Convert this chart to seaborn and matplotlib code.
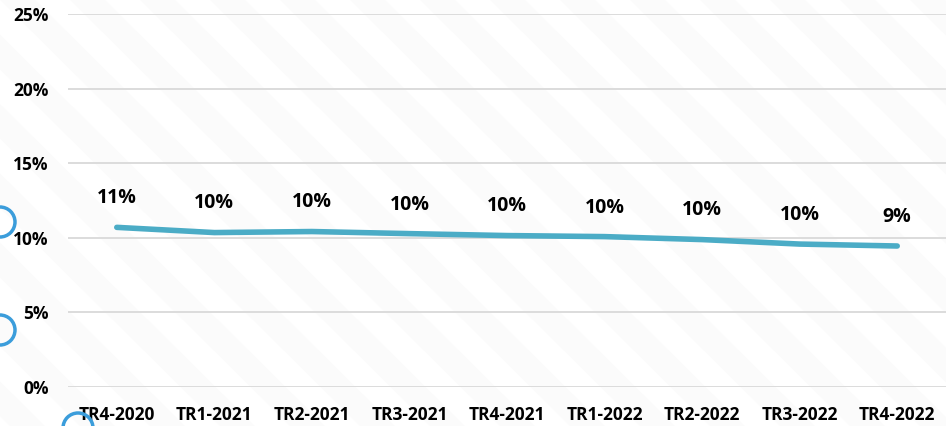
import numpy as np
import pandas as pd
import matplotlib
matplotlib.use("Agg")
import matplotlib.pyplot as plt
import seaborn as sns
from matplotlib.patches import Ellipse

quarters = ["TR4-2020", "TR1-2021", "TR2-2021", "TR3-2021", "TR4-2021",
            "TR1-2022", "TR2-2022", "TR3-2022", "TR4-2022"]
rates = [10.7, 10.35, 10.42, 10.28, 10.15, 10.08, 9.88, 9.58, 9.45]
labels = ["11%", "10%", "10%", "10%", "10%", "10%", "10%", "10%", "9%"]
yticks = [0, 5, 10, 15, 20, 25]

df = pd.DataFrame({"quarter": quarters, "rate": rates})
df["pos"] = np.arange(len(quarters)) + 0.5

sns.set_theme(style="white")
plt.rcParams["font.family"] = ["Open Sans", "DejaVu Sans"]

fig = plt.figure(figsize=(9.46, 4.26), dpi=100)
ax = fig.add_axes([68 / 946, 39 / 426, 878 / 946, 373 / 426])

# very faint diagonal stripes in the background
for k in range(-12, 30):
    x0 = k * 70
    fig.patches.append(plt.Polygon([[x0 / 946, 1], [(x0 + 35) / 946, 1],
                                    [(x0 + 35 + 430) / 946, 0], [(x0 + 430) / 946, 0]],
                                   closed=True, transform=fig.transFigure,
                                   facecolor="#fbfbfb", edgecolor="none", zorder=-5))
ax.patch.set_alpha(0)

for y in yticks:
    ax.axhline(y, color="#d9d9d9", lw=1.3, zorder=1)

sns.lineplot(data=df, x="pos", y="rate", ax=ax, color="#4bacc6", lw=4,
             solid_capstyle="round", zorder=3)

for p, v, t in zip(df["pos"], df["rate"], labels):
    ax.text(p, v + 1.95, t, ha="center", va="center", fontsize=14,
            fontweight="bold", color="#000000")

ax.set_xlim(0, len(quarters))
ax.set_ylim(0, 25)
ax.set_xticks(df["pos"])
ax.set_xticklabels(quarters, fontsize=12.5, fontweight="bold", color="#000000")
ax.set_yticks(yticks)
ax.set_yticklabels([f"{y}%" for y in yticks], fontsize=12.5, fontweight="bold", color="#000000")
ax.tick_params(axis="y", length=0, pad=14)
ax.tick_params(axis="x", length=0, pad=14)
ax.set_xlabel("")
ax.set_ylabel("")
sns.despine(ax=ax, left=True, bottom=True)

# decorative circles on the left edge
for cx, cy, r in [(0, 222, 15), (0, 330, 15), (78, 428, 15)]:
    fig.patches.append(Ellipse((cx / 946, 1 - cy / 426), 2 * r / 946, 2 * r / 426,
                               transform=fig.transFigure, fill=False,
                               edgecolor="#3b9ddb", lw=2.5, zorder=5))

fig.savefig("out.png", dpi=100)
